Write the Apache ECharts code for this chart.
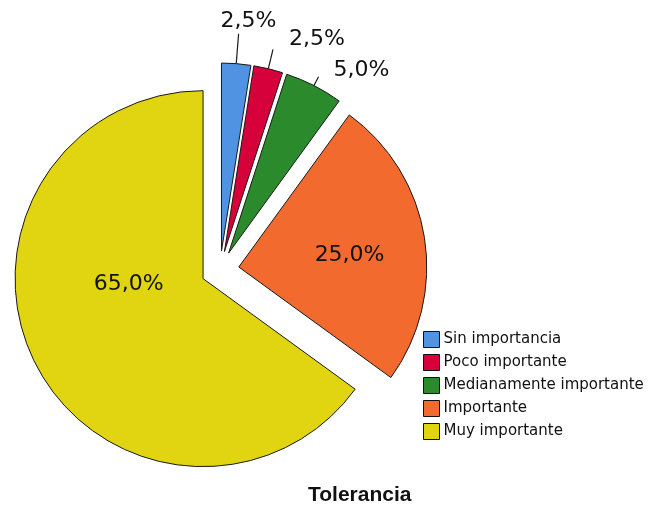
<!DOCTYPE html>
<html>
<head>
<meta charset="utf-8">
<script src="https://cdn.jsdelivr.net/npm/echarts@6/dist/echarts.min.js"></script>
<style>
  html, body { margin: 0; padding: 0; background: #fff; }
  #chart { width: 652px; height: 506px; }
</style>
</head>
<body>
<div id="chart"></div>
<script>
// data
var categories = ['Sin importancia', 'Poco importante', 'Medianamente importante', 'Importante', 'Muy importante']
var percents = [2.5, 2.5, 5.0, 25.0, 65.0]
var colors = ['#4f93e2', '#d6003b', '#2b8a2b', '#f26a2d', '#e0d510']

// label placement per slice: inside flag, leader length, nudge
var labelInside = [false, false, false, true, true]
var leaderLen = [30, 20, 10, 0, 0]
var labelNudge = [[-23, -12], [11, -10], [10, -6], [15, 3], [12, -38]]

var chart = echarts.init(document.getElementById('chart'))

var option = {
  backgroundColor: '#fff',
  animation: false,
  title: {
    text: 'Tolerancia',
    left: 303,
    top: 480,
    textStyle: {
      fontFamily: 'Liberation Sans',
      fontWeight: 'bold',
      fontSize: 21,
      color: '#111'
    }
  },
  legend: {
    orient: 'vertical',
    left: 423,
    top: 331,
    padding: 0,
    itemWidth: 16,
    itemHeight: 16,
    itemGap: 6,
    icon: 'rect',
    selectedMode: false,
    itemStyle: { borderColor: '#111', borderWidth: 1 },
    textStyle: {
      fontFamily: 'DejaVu Sans',
      fontSize: 15,
      lineHeight: 16,
      color: '#111',
      padding: [0, 0, 0, -1]
    },
    data: categories
  },
  series: [{
    type: 'pie',
    center: [220, 270],
    radius: 188,
    startAngle: 90,
    clockwise: true,
    selectedMode: 'multiple',
    selectedOffset: 19,
    avoidLabelOverlap: false,
    itemStyle: { borderColor: '#1a1a1a', borderWidth: 1 },
    emphasis: { disabled: true },
    label: {
      formatter: function (p) { return p.value.toFixed(1).replace('.', ',') + '%' },
      fontFamily: 'DejaVu Sans',
      fontSize: 22,
      color: '#111'
    },
    labelLine: {
      length2: 0,
      lineStyle: { color: '#1a1a1a', width: 1.2 }
    },
    labelLayout: function (p) {
      var n = labelNudge[p.dataIndex]
      return { dx: n[0], dy: n[1] }
    },
    data: categories.map(function (name, i) {
      return {
        name: name,
        value: percents[i],
        selected: true,
        itemStyle: { color: colors[i] },
        label: { position: labelInside[i] ? 'inside' : 'outside' },
        labelLine: { show: !labelInside[i], length: leaderLen[i] }
      }
    })
  }]
}

chart.setOption(option)
</script>
</body>
</html>
